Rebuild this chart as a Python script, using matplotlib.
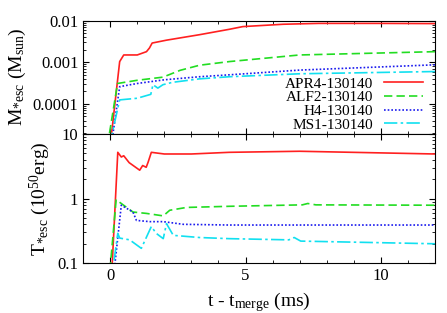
import matplotlib
matplotlib.use("Agg")
from matplotlib import pyplot as plt
from matplotlib.ticker import LogLocator, NullFormatter, FixedLocator, FixedFormatter, MultipleLocator

plt.rcParams['font.family'] = ['Liberation Serif', 'DejaVu Serif']
plt.rcParams['mathtext.fontset'] = 'custom'
plt.rcParams['mathtext.rm'] = 'Liberation Serif'
plt.rcParams['mathtext.it'] = 'Liberation Serif'
plt.rcParams['font.size'] = 12

labels = ["APR4-130140", "ALF2-130140", "H4-130140", "MS1-130140"]
colors = ["#ff2020", "#22dd22", "#1a1aee", "#11e0f0"]

# escaped mass (Msun)
t_m_apr4 = [0.0, 0.35, 0.5, 1.0, 1.34, 1.45, 1.55, 2.08, 3.3, 4.4, 4.9, 6.4, 7.7, 10.0, 12.0]
m_apr4 = [1e-5, 0.00104, 0.0015, 0.0015, 0.0018, 0.0022, 0.0029, 0.0034, 0.0046, 0.0062, 0.0072, 0.0082, 0.0086, 0.0086, 0.0085]
t_m_alf2 = [-0.1, 0.27, 1.0, 1.95, 2.58, 3.3, 4.4, 7.0, 12.0]
m_alf2 = [1e-5, 0.00031, 0.00037, 0.00044, 0.00064, 0.00085, 0.00104, 0.0015, 0.0018]
t_m_h4 = [0.04, 0.35, 1.0, 2.0, 3.3, 4.4, 7.0, 12.0]
m_h4 = [1e-5, 0.00026, 0.00031, 0.00038, 0.00045, 0.0005, 0.00065, 0.00087]
t_m_ms1 = [-0.03, 0.35, 1.0, 1.5, 1.58, 1.76, 1.95, 2.3, 3.3, 4.4, 7.0, 12.0]
m_ms1 = [1e-5, 0.000125, 0.000137, 0.00017, 0.00029, 0.00024, 0.00029, 0.00033, 0.0004, 0.00045, 0.00053, 0.0006]

# escaped kinetic energy (1e50 erg)
t_e_apr4 = [0.04, 0.28, 0.41, 0.5, 0.7, 1.09, 1.2, 1.33, 1.4, 1.52, 2.0, 3.0, 4.4, 7.0, 12.0]
e_apr4 = [0.05, 5.2, 4.4, 4.6, 3.6, 2.75, 3.25, 3.05, 3.65, 5.2, 4.9, 4.9, 5.2, 5.4, 4.9]
t_e_alf2 = [-0.05, 0.22, 0.84, 1.34, 1.96, 2.2, 2.82, 4.4, 7.1, 7.3, 7.6, 12.0]
e_alf2 = [0.05, 0.96, 0.62, 0.59, 0.54, 0.66, 0.73, 0.76, 0.8, 0.84, 0.8, 0.79]
t_e_h4 = [0.1, 0.41, 0.84, 0.97, 1.46, 1.96, 2.7, 4.4, 12.0]
e_h4 = [0.05, 0.79, 0.62, 0.46, 0.44, 0.44, 0.4, 0.39, 0.39]
t_e_ms1 = [0.03, 0.28, 0.35, 0.72, 1.15, 1.52, 1.7, 1.96, 2.08, 2.33, 3.3, 4.4, 6.6, 6.8, 7.04, 12.0]
e_ms1 = [0.05, 0.29, 0.245, 0.23, 0.17, 0.37, 0.29, 0.24, 0.41, 0.27, 0.25, 0.24, 0.23, 0.25, 0.22, 0.2]

styles = [dict(ls='-'), dict(ls=(0, (5, 2.5))), dict(ls=(0, (1, 1.2))), dict(ls=(0, (8, 2, 1.5, 2)))]

fig = plt.figure(figsize=(4.47, 3.13), dpi=100)
ax1 = fig.add_axes([0.186, 0.572, 0.787, 0.362])
ax2 = fig.add_axes([0.186, 0.159, 0.787, 0.413])

mass = [(t_m_apr4, m_apr4), (t_m_alf2, m_alf2), (t_m_h4, m_h4), (t_m_ms1, m_ms1)]
energy = [(t_e_apr4, e_apr4), (t_e_alf2, e_alf2), (t_e_h4, e_h4), (t_e_ms1, e_ms1)]

for (t, m), lab, c, st in zip(mass, labels, colors, styles):
    ax1.plot(t, m, color=c, lw=1.2, label=lab, **st)
for (t, e), c, st in zip(energy, colors, styles):
    ax2.plot(t, e, color=c, lw=1.2, **st)

for ax in (ax1, ax2):
    ax.set_yscale('log')
    ax.set_xlim(-1, 12)
    ax.xaxis.set_major_locator(MultipleLocator(5))
    ax.xaxis.set_minor_locator(MultipleLocator(1))
    ax.yaxis.set_minor_locator(LogLocator(base=10, subs=range(2, 10)))
    ax.yaxis.set_minor_formatter(NullFormatter())
    ax.tick_params(which='both', direction='in', top=True, right=True, labelsize=12)
    ax.tick_params(which='major', length=4)
    ax.tick_params(which='minor', length=2)

ax1.set_ylim(1.9e-5, 0.01)
ax1.yaxis.set_major_locator(FixedLocator([1e-4, 1e-3, 1e-2]))
ax1.yaxis.set_major_formatter(FixedFormatter(["0.0001", "0.001", "0.01"]))
ax1.tick_params(labelbottom=False)

ax2.set_ylim(0.1, 10)
ax2.yaxis.set_major_locator(FixedLocator([0.1, 1, 10]))
ax2.yaxis.set_major_formatter(FixedFormatter(["0.1", "1", "10"]))

ax1.set_ylabel(r"M$_{*\mathrm{esc}}$ (M$_{\mathrm{sun}}$)", fontsize=14, labelpad=3)
ax2.set_ylabel(r"T$_{*\mathrm{esc}}$ (10$^{50}$erg)", fontsize=14)
ax2.set_xlabel(r"t - t$_{\mathrm{merge}}$ (ms)", fontsize=14)
fig.align_ylabels([ax1, ax2])

ax1.legend(loc='lower right', bbox_to_anchor=(0.974, 0.0), frameon=False, markerfirst=False,
           fontsize=11, handlelength=2.6, labelspacing=0.0, borderaxespad=0.0,
           borderpad=0.15, handletextpad=0.7)

fig.savefig("out.png", dpi=100)
